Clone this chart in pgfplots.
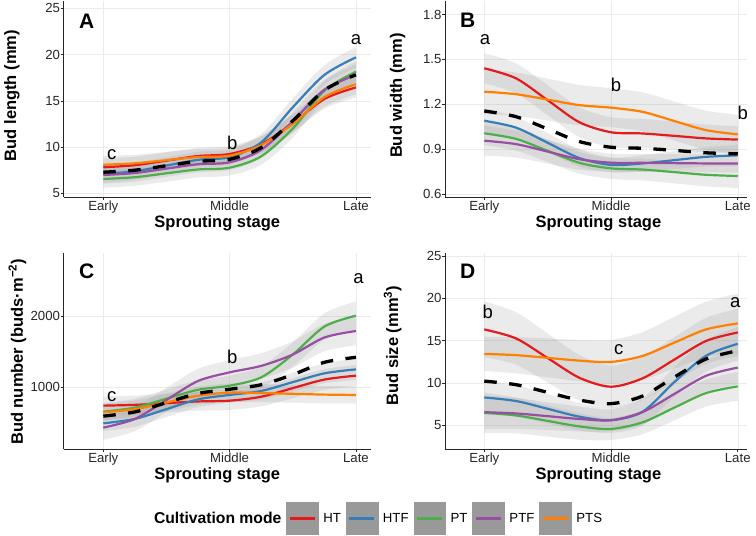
\documentclass[border=0pt]{standalone}
\usepackage{fontspec}
\setmainfont{Liberation Sans}
\usepackage{pgfplots}
\usepackage{pgfplotstable}
\pgfplotsset{compat=1.18}
\usepgfplotslibrary{fillbetween}

\definecolor{cHT}{HTML}{E41A1C}
\definecolor{cHTF}{HTML}{377EB8}
\definecolor{cPT}{HTML}{4DAF4A}
\definecolor{cPTF}{HTML}{984EA3}
\definecolor{cPTS}{HTML}{FF7F00}
\definecolor{keygray}{HTML}{999999}

% Panel A: bud length (mm); e* = half-width of the grey band
\pgfplotstableread{
x    HT    eHT   HTF   eHTF  PT    ePT   PTF   ePTF  PTS   ePTS  M
1    7.81  0.95  7.10  0.95  6.55  0.95  6.98  0.95  8.09  0.95  7.28
1.25 8.04  0.925 7.38  0.925 6.74  0.925 7.19  0.925 8.24  0.925 7.50
1.5  8.53  0.90  8.00  0.90  7.16  0.90  7.67  0.90  8.58  0.90  7.98
1.75 9.03  0.875 8.62  0.875 7.58  0.875 8.14  0.875 8.92  0.875 8.46
2    9.25  0.85  8.90  0.85  7.77  0.85  8.35  0.85  9.07  0.85  8.67
2.25 10.30 0.91  10.50 0.91  9.00  0.91  9.70  0.91  10.20 0.91  9.94
2.5  12.60 0.975 14.30 0.975 12.00 0.975 12.80 0.975 12.50 0.975 12.84
2.75 15.20 1.04  17.80 1.04  16.10 1.04  16.20 1.04  15.40 1.04  16.14
3    16.45 1.10  19.70 1.10  18.15 1.10  17.80 1.10  16.80 1.10  17.82
}\tabA

% Panel B: bud width (mm)
\pgfplotstableread{
x    HT    eHT    HTF   eHTF   PT    ePT    PTF   ePTF  PTS   ePTS  M
1    1.441 0.100  1.091 0.080  1.007 0.080  0.958 0.10  1.285 0.150 1.156
1.25 1.374 0.100  1.045 0.0725 0.970 0.0775 0.935 0.09  1.268 0.145 1.118
1.5  1.228 0.100  0.944 0.065  0.890 0.075  0.885 0.08  1.232 0.140 1.036
1.75 1.081 0.100  0.842 0.0575 0.810 0.0725 0.834 0.07  1.195 0.135 0.952
2    1.014 0.100  0.796 0.050  0.773 0.070  0.811 0.06  1.178 0.130 0.914
2.25 1.006 0.0975 0.806 0.055  0.765 0.0725 0.810 0.06  1.150 0.130 0.907
2.5  0.990 0.095  0.828 0.060  0.748 0.075  0.808 0.06  1.089 0.130 0.893
2.75 0.973 0.0925 0.850 0.065  0.730 0.0775 0.806 0.06  1.028 0.130 0.877
3    0.965 0.090  0.860 0.070  0.722 0.080  0.805 0.06  1.000 0.130 0.870
}\tabB

% Panel C: bud number (buds m^-2)
\pgfplotstableread{
x    HT   eHT  HTF  eHTF PT   ePT  PTF  ePTF  PTS  ePTS  M
1    743  130  495  110  659  120  435  170   650  120   596
1.25 754  130  557  110  716  125  556  170   693  122.5 655
1.5  778  130  694  110  841  130  823  170   788  125   785
1.75 802  130  831  110  966  135  1089 170   882  127.5 914
2    813  130  893  110  1023 140  1210 170   925  130   973
2.25 868  135  949  120  1140 155  1301 177.5 920  127.5 1036
2.5  989  140  1073 130  1460 170  1460 185   909  125   1178
2.75 1109 145  1196 140  1852 185  1699 192.5 898  122.5 1351
3    1164 150  1252 150  2005 200  1790 200   893  120   1421
}\tabC

% Panel D: bud size (mm^3)
\pgfplotstableread{
x    HT    eHT   HTF   eHTF  PT    ePT   PTF   ePTF  PTS   ePTS  M
1    16.32 3.30  8.28  2.000 6.46  2.400 6.54  2.000 13.43 2.000 10.21
1.25 15.26 3.10  7.86  1.875 6.16  2.125 6.39  1.825 13.28 2.150 9.79
1.5  12.94 2.90  6.94  1.750 5.51  1.850 6.07  1.650 12.96 2.300 8.88
1.75 10.61 2.70  6.01  1.625 4.86  1.575 5.74  1.475 12.63 2.450 7.97
2    9.55  2.50  5.59  1.500 4.56  1.300 5.59  1.300 12.48 2.600 7.55
2.25 10.55 2.575 6.60  1.625 5.35  1.400 6.56  1.475 13.19 2.825 8.45
2.5  12.76 2.65  10.10 1.750 7.08  1.500 8.70  1.650 14.76 3.050 10.68
2.75 14.96 2.725 13.21 1.875 8.80  1.600 10.84 1.825 16.32 3.275 12.83
3    15.96 2.80  14.62 2.000 9.59  1.700 11.81 2.000 17.03 3.500 13.80
}\tabD

\newcommand{\ribbon}[3]{%
  \addplot[name path=#3#2u, draw=none, smooth, forget plot] table[x=x, y expr=\thisrow{#2}+\thisrow{e#2}] {#1};
  \addplot[name path=#3#2l, draw=none, smooth, forget plot] table[x=x, y expr=\thisrow{#2}-\thisrow{e#2}] {#1};
  \addplot[fill=black!40, fill opacity=0.2, draw=none, forget plot] fill between[of=#3#2u and #3#2l];
}
\newcommand{\panel}[2]{%
  \ribbon{#1}{HT}{#2}\ribbon{#1}{HTF}{#2}\ribbon{#1}{PT}{#2}\ribbon{#1}{PTF}{#2}\ribbon{#1}{PTS}{#2}
  \addplot[smooth, forget plot, draw=cHT, line width=2.2pt] table[x=x, y=HT] {#1};
  \addplot[smooth, forget plot, draw=cHTF, line width=2.2pt] table[x=x, y=HTF] {#1};
  \addplot[smooth, forget plot, draw=cPT, line width=2.2pt] table[x=x, y=PT] {#1};
  \addplot[smooth, forget plot, draw=cPTF, line width=2.2pt] table[x=x, y=PTF] {#1};
  \addplot[smooth, forget plot, draw=cPTS, line width=2.2pt] table[x=x, y=PTS] {#1};
  \addplot[smooth, forget plot, draw=black, line width=3.3pt, dash pattern=on 12.5pt off 12.5pt] table[x=x, y=M] {#1};
}

\tikzset{
  ann/.style={font=\fontsize{18.5}{19}\selectfont, inner sep=0pt, anchor=center},
  plab/.style={font=\bfseries\fontsize{21}{21}\selectfont, inner sep=0pt, anchor=center},
}
\pgfplotsset{
  panelstyle/.style={
    scale only axis, height=196pt,
    axis lines=left, axis line style={-, black!85, line width=0.7pt},
    tick align=outside, major tick length=2.7pt,
    tick style={black!85, line width=0.6pt},
    grid=major, grid style={black!8, line width=0.5pt},
    xtick={1,2,3}, xticklabels={Early,Middle,Late},
    ticklabel style={font=\fontsize{13.2}{14}\selectfont, text=black!85},
    /pgf/number format/assume math mode=true,
    yticklabel style={inner sep=0.6pt},
    xticklabel style={inner sep=1.2pt},
    label style={font=\bfseries\fontsize{16.5}{18}\selectfont},
    xlabel={Sprouting stage},
    clip=true,
  },
}

\begin{document}
\begin{tikzpicture}

% ---------- A ----------
\begin{axis}[panelstyle, at={(63.5pt,339pt)}, anchor=south west, width=307.5pt,
  xmin=0.685, xmax=3.119, ymin=4.6, ymax=25.79, ytick={5,10,15,20,25},
  ylabel={Bud length (mm)},
  ylabel style={at={(axis description cs:-0.168,0.517)}, anchor=center},
  xlabel style={at={(axis description cs:0.5,-0.134)}, anchor=center}]
\panel{\tabA}{pa}
\node[plab] at (rel axis cs:0.0754,0.894) {A};
\node[ann] at (axis cs:1.066,9.14) {c};
\node[ann] at (axis cs:2.02,10.47) {b};
\node[ann] at (axis cs:3.0,21.65) {a};
\end{axis}

% ---------- B ----------
\begin{axis}[panelstyle, at={(445pt,339pt)}, anchor=south west, width=302pt,
  xmin=0.690, xmax=3.073, ymin=0.582, ymax=1.89, ytick={0.6,0.9,1.2,1.5,1.8},
  yticklabel style={/pgf/number format/.cd, fixed, fixed zerofill, precision=1},
  ylabel={Bud width (mm)},
  ylabel style={at={(axis description cs:-0.157,0.517)}, anchor=center},
  xlabel style={at={(axis description cs:0.508,-0.134)}, anchor=center}]
\panel{\tabB}{pb}
\node[plab] at (rel axis cs:0.075,0.903) {B};
\node[ann] at (axis cs:1.005,1.634) {a};
\node[ann] at (axis cs:2.04,1.329) {b};
\node[ann] at (axis cs:3.04,1.144) {b};
\end{axis}

% ---------- C ----------
\begin{axis}[panelstyle, at={(63.5pt,87pt)}, anchor=south west, width=307.5pt,
  xmin=0.685, xmax=3.119, ymin=135, ymax=2884, ytick={1000,2000},
  yticklabel style={/pgf/number format/1000 sep={}},
  ylabel={Bud number (buds·m\textsuperscript{−2})},
  ylabel style={at={(axis description cs:-0.150,0.496)}, anchor=center},
  xlabel style={at={(axis description cs:0.5,-0.134)}, anchor=center}]
\panel{\tabC}{pc}
\node[plab] at (rel axis cs:0.0754,0.905) {C};
\node[ann] at (axis cs:1.066,868) {c};
\node[ann] at (axis cs:2.02,1421) {b};
\node[ann] at (axis cs:3.02,2529) {a};
\end{axis}

% ---------- D ----------
\begin{axis}[panelstyle, at={(445pt,87pt)}, anchor=south west, width=302pt,
  xmin=0.690, xmax=3.073, ymin=2.19, ymax=25.35, ytick={5,10,15,20,25},
  ylabel={Bud size (mm\textsuperscript{3})},
  ylabel style={at={(axis description cs:-0.173,0.527)}, anchor=center},
  xlabel style={at={(axis description cs:0.508,-0.134)}, anchor=center},
  legend style={at={(axis description cs:-0.230,-0.3536)}, anchor=center,
    draw=none, fill=none, inner sep=0pt, outer sep=0pt,
    font=\fontsize{13.2}{14}\selectfont,
    nodes={inner sep=0pt},
    /tikz/every odd column/.append style={column sep=5pt},
    /tikz/every even column/.append style={column sep=5pt}},
  legend columns=-1, legend cell align=left]
\addlegendimage{empty legend}
\addlegendentry{\bfseries\fontsize{15.7}{16}\selectfont Cultivation mode}
\addlegendimage{legend image code/.code={\fill[keygray] (0pt,-16pt) rectangle (31.6pt,16pt);\draw[cHT,line width=3pt] (3.3pt,0pt)--(28.3pt,0pt);}}
\addlegendentry{HT}
\addlegendimage{legend image code/.code={\fill[keygray] (0pt,-16pt) rectangle (31.6pt,16pt);\draw[cHTF,line width=3pt] (3.3pt,0pt)--(28.3pt,0pt);}}
\addlegendentry{HTF}
\addlegendimage{legend image code/.code={\fill[keygray] (0pt,-16pt) rectangle (31.6pt,16pt);\draw[cPT,line width=3pt] (3.3pt,0pt)--(28.3pt,0pt);}}
\addlegendentry{PT}
\addlegendimage{legend image code/.code={\fill[keygray] (0pt,-16pt) rectangle (31.6pt,16pt);\draw[cPTF,line width=3pt] (3.3pt,0pt)--(28.3pt,0pt);}}
\addlegendentry{PTF}
\addlegendimage{legend image code/.code={\fill[keygray] (0pt,-16pt) rectangle (31.6pt,16pt);\draw[cPTS,line width=3pt] (3.3pt,0pt)--(28.3pt,0pt);}}
\addlegendentry{PTS}
\panel{\tabD}{pd}
\node[plab] at (rel axis cs:0.075,0.905) {D};
\node[ann] at (axis cs:1.027,18.4) {b};
\node[ann] at (axis cs:2.06,13.94) {c};
\node[ann] at (axis cs:2.98,19.48) {a};
\end{axis}
\path (0,0) rectangle (756pt,536pt);
\end{tikzpicture}
\end{document}
